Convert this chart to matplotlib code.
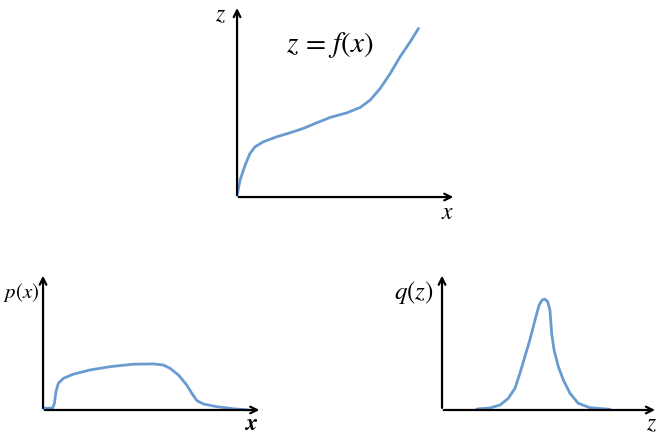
import matplotlib
matplotlib.use('Agg')
import matplotlib.pyplot as plt

plt.rcParams['mathtext.fontset'] = 'stix'

# z = f(x) (axis fraction units)
f_x = [0.0, 0.014, 0.037, 0.059, 0.082, 0.12, 0.181, 0.242, 0.303, 0.364, 0.425, 0.501, 0.562,
       0.607, 0.653, 0.699, 0.744, 0.79, 0.828]
f_z = [0.01, 0.089, 0.167, 0.227, 0.262, 0.288, 0.314, 0.335, 0.358, 0.387, 0.415, 0.439, 0.467,
       0.505, 0.566, 0.644, 0.731, 0.809, 0.879]

# p(x)
p_x = [0.0, 0.044, 0.052, 0.059, 0.07, 0.093, 0.138, 0.215, 0.306, 0.412, 0.503, 0.549, 0.58,
       0.618, 0.656, 0.679, 0.702, 0.732, 0.793, 0.869, 0.937]
p_y = [0.012, 0.015, 0.049, 0.134, 0.195, 0.231, 0.261, 0.292, 0.316, 0.334, 0.336, 0.328, 0.304,
       0.255, 0.182, 0.122, 0.068, 0.044, 0.024, 0.009, 0.0]

# q(z)
q_z = [0.161, 0.222, 0.269, 0.307, 0.338, 0.361, 0.384, 0.407, 0.431, 0.45, 0.464, 0.477, 0.489,
       0.5, 0.508, 0.519, 0.539, 0.562, 0.593, 0.631, 0.685, 0.778]
q_y = [0.007, 0.015, 0.036, 0.085, 0.158, 0.268, 0.389, 0.511, 0.657, 0.766, 0.803, 0.808, 0.791,
       0.73, 0.56, 0.438, 0.316, 0.219, 0.122, 0.049, 0.017, 0.005]

line_color = '#6a9bd0'

fig = plt.figure(figsize=(6.64, 4.34), dpi=100)

ax_top = fig.add_axes([0.357, 0.546, 0.330, 0.442])
ax_p = fig.add_axes([0.0648, 0.0553, 0.330, 0.316])
ax_q = fig.add_axes([0.6657, 0.0553, 0.325, 0.316])

for ax in (ax_top, ax_p, ax_q):
    ax.set_xlim(0, 1)
    ax.set_ylim(0, 1)
    ax.axis('off')
    arrow = dict(arrowstyle='->', lw=1.6, color='black', mutation_scale=12)
    ax.annotate('', xy=(1, 0), xytext=(-0.005, 0), xycoords='axes fraction', arrowprops=arrow)
    ax.annotate('', xy=(0, 1), xytext=(0, -0.005), xycoords='axes fraction', arrowprops=arrow)

style = dict(color=line_color, lw=2.0, solid_capstyle='round', solid_joinstyle='round', clip_on=False)
ax_top.plot(f_x, f_z, **style)
ax_p.plot(p_x, p_y, **style)
ax_q.plot(q_z, q_y, **style)

ax_top.text(0.425, 0.79, '$z\\,=\\,f(x)$', fontsize=21, ha='center', va='center', transform=ax_top.transAxes)
ax_top.text(-0.075, 0.955, '$z$', fontsize=17, ha='center', va='center', transform=ax_top.transAxes)
ax_top.text(0.96, -0.08, '$x$', fontsize=17, ha='center', va='center', transform=ax_top.transAxes)

ax_p.text(-0.1, 0.86, '$p(x)$', fontsize=15, ha='center', va='center', transform=ax_p.transAxes)
ax_p.text(0.95, -0.095, '$\\boldsymbol{x}$', fontsize=17, ha='center', va='center', transform=ax_p.transAxes)

ax_q.text(-0.13, 0.86, '$q(z)$', fontsize=18, ha='center', va='center', transform=ax_q.transAxes)
ax_q.text(0.97, -0.095, '$z$', fontsize=17, ha='center', va='center', transform=ax_q.transAxes)

plt.savefig('out.png', dpi=100)
